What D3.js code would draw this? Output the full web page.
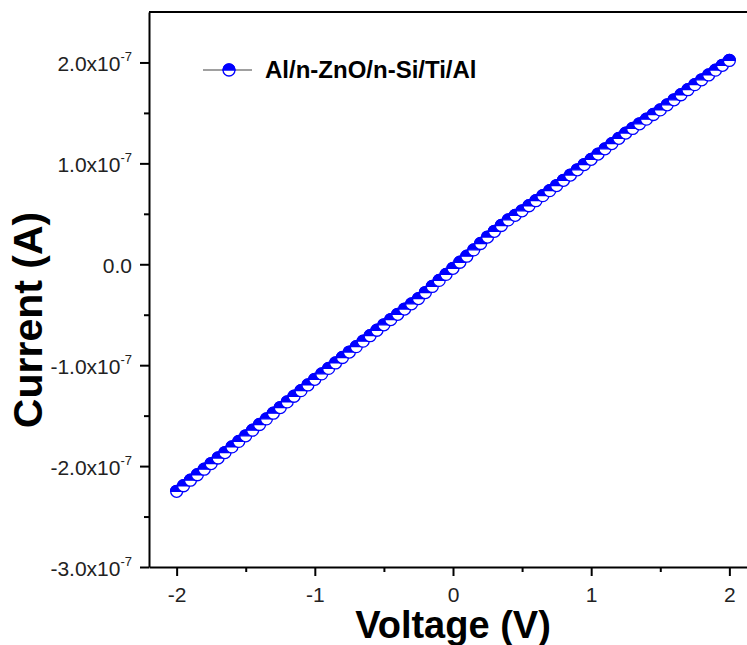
<!DOCTYPE html>
<html>
<head>
<meta charset="utf-8">
<script src="https://cdn.jsdelivr.net/npm/d3@7"></script>
<style>
  body { margin: 0; background: #fff; }
  svg { display: block; }
  text { font-family: "Liberation Sans", Arial, sans-serif; }
</style>
</head>
<body>
<svg id="chart" width="747" height="645"></svg>
<script>
// I-V sweep of the Al/n-ZnO/n-Si/Ti/Al device
const voltage = [
  -2.00, -1.95, -1.90, -1.85, -1.80, -1.75, -1.70, -1.65, -1.60, -1.55,
  -1.50, -1.45, -1.40, -1.35, -1.30, -1.25, -1.20, -1.15, -1.10, -1.05,
  -1.00, -0.95, -0.90, -0.85, -0.80, -0.75, -0.70, -0.65, -0.60, -0.55,
  -0.50, -0.45, -0.40, -0.35, -0.30, -0.25, -0.20, -0.15, -0.10, -0.05,
   0.00,  0.05,  0.10,  0.15,  0.20,  0.25,  0.30,  0.35,  0.40,  0.45,
   0.50,  0.55,  0.60,  0.65,  0.70,  0.75,  0.80,  0.85,  0.90,  0.95,
   1.00,  1.05,  1.10,  1.15,  1.20,  1.25,  1.30,  1.35,  1.40,  1.45,
   1.50,  1.55,  1.60,  1.65,  1.70,  1.75,  1.80,  1.85,  1.90,  1.95,
   2.00
];
// current in units of 1e-7 A
const current = [
  -2.250, -2.195, -2.140, -2.086, -2.031, -1.975, -1.920, -1.866, -1.810, -1.755,
  -1.700, -1.644, -1.588, -1.532, -1.476, -1.420, -1.364, -1.308, -1.252, -1.196,
  -1.140, -1.086, -1.032, -0.978, -0.924, -0.870, -0.816, -0.762, -0.708, -0.654,
  -0.600, -0.548, -0.496, -0.444, -0.392, -0.340, -0.280, -0.220, -0.160, -0.100,
  -0.040,  0.020,  0.080,  0.143,  0.206,  0.270,  0.327,  0.384,  0.440,  0.485,
   0.530,  0.580,  0.630,  0.680,  0.730,  0.780,  0.832,  0.884,  0.936,  0.988,
   1.040,  1.092,  1.144,  1.196,  1.248,  1.300,  1.346,  1.392,  1.438,  1.484,
   1.530,  1.580,  1.630,  1.680,  1.730,  1.780,  1.828,  1.876,  1.924,  1.972,
   2.020
];
const seriesName = "Al/n-ZnO/n-Si/Ti/Al";

const xMajorTicks = [-2, -1, 0, 1, 2];
const xMinorTicks = [-1.5, -0.5, 0.5, 1.5];
const xTickLabels = ["-2", "-1", "0", "1", "2"];

const yMajorTicks = [-3, -2, -1, 0, 1, 2];
const yMinorTicks = [-2.5, -1.5, -0.5, 0.5, 1.5];
const yTickMantissa = ["-3.0", "-2.0", "-1.0", "0.0", "1.0", "2.0"];
const yTickExponent = ["-7", "-7", "-7", "", "-7", "-7"];

const xTitle = "Voltage (V)";
const yTitle = "Current (A)";

const blue = "#0000ff";
const svg = d3.select("#chart");

const plot = { left: 149, right: 757, top: 12, bottom: 567 };
const x = d3.scaleLinear().domain([-2.2, 2.2]).range([plot.left, plot.right]);
const y = d3.scaleLinear().domain([-3, 2.5]).range([plot.bottom, plot.top]);

// frame (top and right edges)
svg.append("path")
  .attr("d", `M${plot.left},${plot.top}H${plot.right}V${plot.bottom}`)
  .attr("fill", "none").attr("stroke", "#000").attr("stroke-width", 2);

// bottom axis
const gx = svg.append("g").attr("transform", `translate(0,${plot.bottom})`)
  .call(d3.axisBottom(x).tickValues(xMajorTicks).tickSize(9).tickSizeOuter(0)
    .tickFormat((d, i) => xTickLabels[i]));
gx.select(".domain").attr("stroke-width", 2);
gx.selectAll(".tick line").attr("stroke-width", 2);
gx.selectAll(".tick text").attr("font-size", 21).attr("fill", "#222")
  .attr("y", 0).attr("dy", null).attr("transform", "translate(0,35)");
svg.append("g").attr("transform", `translate(0,${plot.bottom})`)
  .call(d3.axisBottom(x).tickValues(xMinorTicks).tickSize(5).tickSizeOuter(0).tickFormat(""))
  .call(g => g.select(".domain").remove())
  .selectAll(".tick line").attr("stroke-width", 2);

// left axis
const gy = svg.append("g").attr("transform", `translate(${plot.left},0)`)
  .call(d3.axisLeft(y).tickValues(yMajorTicks).tickSize(9).tickSizeOuter(0).tickFormat(""));
gy.select(".domain").attr("stroke-width", 2);
gy.selectAll(".tick line").attr("stroke-width", 2);
gy.selectAll(".tick").each(function (d, i) {
  const t = d3.select(this).append("text")
    .attr("x", -17).attr("y", 8).attr("text-anchor", "end")
    .attr("fill", "#222").attr("font-size", 21);
  t.append("tspan").text(yTickMantissa[i] + (yTickExponent[i] ? "x10" : ""));
  if (yTickExponent[i]) {
    t.append("tspan").attr("font-size", 13).attr("dy", -10).text(yTickExponent[i]);
  }
});
svg.append("g").attr("transform", `translate(${plot.left},0)`)
  .call(d3.axisLeft(y).tickValues(yMinorTicks).tickSize(5).tickSizeOuter(0).tickFormat(""))
  .call(g => g.select(".domain").remove())
  .selectAll(".tick line").attr("stroke-width", 2);

// axis titles
svg.append("text").attr("x", x(0)).attr("y", 638)
  .attr("text-anchor", "middle").attr("font-size", 38).attr("font-weight", "bold")
  .text(xTitle);
svg.append("text").attr("transform", `translate(42,320) rotate(-90)`)
  .attr("text-anchor", "middle").attr("font-size", 41).attr("font-weight", "bold")
  .text(yTitle);

// half-filled circle marker: blue upper half, white lower half
const r = 6;
function drawMarker(g) {
  g.append("circle").attr("r", r).attr("fill", "#fff")
    .attr("stroke", blue).attr("stroke-width", 1.3);
  g.append("path").attr("d", `M${-r},0A${r},${r} 0 0 1 ${r},0Z`)
    .attr("fill", blue).attr("stroke", blue).attr("stroke-width", 1.3);
}

const pts = voltage.map((v, i) => ({ v, c: current[i] }));
svg.append("path").datum(pts)
  .attr("d", d3.line().x(d => x(d.v)).y(d => y(d.c)))
  .attr("fill", "none").attr("stroke", "#808080").attr("stroke-width", 1.2);
svg.append("g").selectAll("g").data(pts).join("g")
  .attr("transform", d => `translate(${x(d.v)},${y(d.c)})`)
  .each(function () { drawMarker(d3.select(this)); });

// legend
const lg = svg.append("g").attr("transform", "translate(229,70)");
lg.append("line").attr("x1", -26).attr("x2", 23).attr("stroke", "#808080").attr("stroke-width", 1.5);
drawMarker(lg);
lg.append("text").attr("x", 36).attr("y", 8).attr("font-size", 24)
  .attr("font-weight", "bold").text(seriesName);
</script>
</body>
</html>
